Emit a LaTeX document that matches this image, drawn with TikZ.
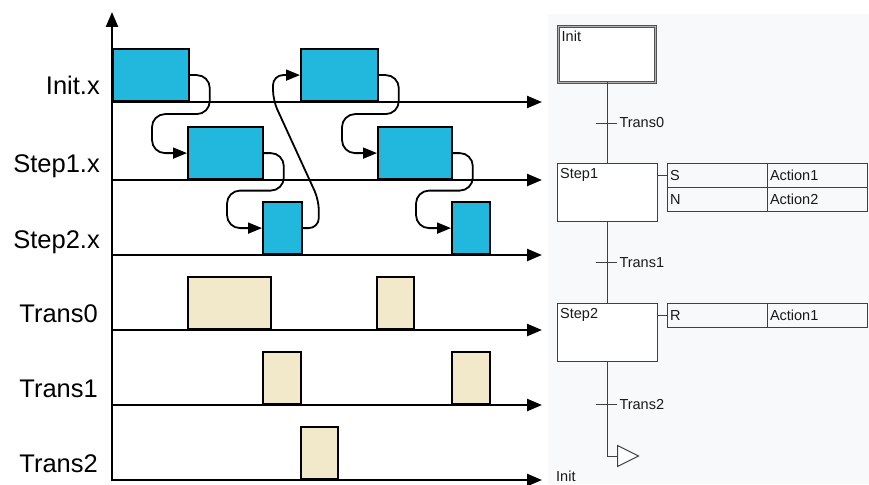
\documentclass[tikz,border=0pt]{standalone}
\usepackage{fontspec}
\setmainfont{Liberation Sans}
\usetikzlibrary{positioning,shapes.geometric,arrows.meta,calc}
\definecolor{actblue}{RGB}{34,184,221}
\definecolor{condtan}{RGB}{242,233,203}
\definecolor{panelbg}{RGB}{248,249,251}
\definecolor{sfcline}{RGB}{64,64,64}

\begin{document}
\begin{tikzpicture}[
  x=1pt, y=-1pt,
  sig/.style={font=\fontsize{25.5}{28}\selectfont, anchor=base east, inner sep=0pt},
  axis/.style={line width=2.4pt, -{Triangle[length=15pt,width=12pt]}},
  act/.style={draw, line width=1.8pt, fill=actblue, anchor=south west,
    inner sep=0pt, minimum height=52pt},
  cond/.style={draw, line width=1.8pt, fill=condtan, anchor=south west,
    inner sep=0pt, minimum height=52pt},
  flow/.style={line width=1.8pt, rounded corners=13pt,
    -{Triangle[length=14pt,width=11pt]}},
  hop/.style={to path={let \p1=(\tikztostart), \p2=(\tikztotarget) in
    -- (\x1+20pt,\y1) -- (\x1+20pt,{(\y1+\y2)/2})
    -- (\x2-35pt,{(\y1+\y2)/2}) -- (\x2-35pt,\y2) -- (\tikztotarget)}},
  sfc/.style={draw=sfcline, line width=1pt},
  sfctext/.style={font=\fontsize{14.5}{16}\selectfont, text=black!90},
  stepbox/.style={sfc, fill=white, minimum width=100pt, minimum height=58pt,
    inner sep=0pt, outer sep=0pt},
  steplbl/.style={sfctext, anchor=north west, inner xsep=3pt, inner ysep=5pt},
  cell/.style={sfc, sfctext, text width=94pt, align=left, inner xsep=3pt,
    inner ysep=0pt, minimum height=24pt, outer sep=0pt},
]
\useasboundingbox (0,0) rectangle (869,484);

% chart panel
\fill[panelbg] (548,14) rectangle (869,484);

% signal names
\node[sig] (lInit)  at (100,95)  {Init.x};
\node[sig] (lStep1) at (100,172) {Step1.x};
\node[sig] (lStep2) at (100,248) {Step2.x};
\node[sig] (lT0)    at (98,322)  {Trans0};
\node[sig] (lT1)    at (98,397)  {Trans1};
\node[sig] (lT2)    at (98,472)  {Trans2};

% step activity
\node[act, minimum width=76pt] (i1)  at (112,102) {};
\node[act, minimum width=77pt] (i2)  at (300,102) {};
\node[act, minimum width=75pt] (s1a) at (187,180) {};
\node[act, minimum width=74pt] (s1b) at (377,180) {};
\node[act, minimum width=39pt] (s2a) at (262,255) {};
\node[act, minimum width=38pt] (s2b) at (451,255) {};

% transition conditions
\node[cond, minimum width=83pt] (t0a) at (187,330) {};
\node[cond, minimum width=37pt] (t0b) at (376,330) {};
\node[cond, minimum width=38pt] (t1a) at (262,405) {};
\node[cond, minimum width=38pt] (t1b) at (451,405) {};
\node[cond, minimum width=37pt] (t2a) at (300,480) {};

% time axes
\draw[axis] (112,481) -- (112,12);
\foreach \y in {102,180,255,330,405,480}
  \draw[axis] (111,\y) -- (542,\y);

% activation hops
\draw[flow] (i1.east) to[hop] (s1a.west);
\draw[flow] (s1a.east) to[hop] (s2a.west);
\draw[flow] (i2.east) to[hop] (s1b.west);
\draw[flow] (s1b.east) to[hop] (s2b.west);
\draw[flow, rounded corners=10pt] (s2a.east) -- ++(16,0) -- ++(0,-28)
  -- ($(i2.west)+(-27,25)$) -- ++(0,-25) -- (i2.west);

% SFC
\node[stepbox, anchor=north west, draw=sfcline!90, double=black!30,
  double distance=1.4pt, minimum width=97pt, minimum height=56pt,
  label={[steplbl, inner ysep=4pt]north west:Init}] (init) at (558.5,26.5) {};
\node[stepbox, below=81pt of init, label={[steplbl]north west:Step1}] (step1) {};
\node[stepbox, below=82pt of step1, label={[steplbl]north west:Step2}] (step2) {};

\node[cell, anchor=north west] (q1) at ([xshift=10pt]step1.north east) {S};
\node[cell, right=0pt of q1] (a1) {Action1};
\node[cell, below=0pt of q1] (q2) {N};
\node[cell, right=0pt of q2] (a2) {Action2};
\node[cell, anchor=north west] (q3) at ([xshift=10pt]step2.north east) {R};
\node[cell, right=0pt of q3] (a3) {Action1};

\node[sfc, isosceles triangle, isosceles triangle stretches, fill=white,
  minimum width=21pt, minimum height=21pt, inner sep=0pt, anchor=west]
  (jmp) at (617,456) {};
\node[sfctext, anchor=base west, inner sep=0pt] (jmpto) at (556,481.5) {Init};

\draw[sfc] (init.south) -- (step1.north);
\draw[sfc] (step1.south) -- (step2.north);
\draw[sfc] (step2.south) |- (jmp.west);
\draw[sfc] (step1.east |- q1.west) -- (q1.west);
\draw[sfc] (step2.east |- q3.west) -- (q3.west);

% transitions
\coordinate (tr0) at ($(init.south)!.5!(step1.north)$);
\coordinate (tr1) at ($(step1.south)!.5!(step2.north)$);
\coordinate (tr2) at ($(step2.south)!.45!(step2.south |- jmp.west)$);
\draw[sfc] ([xshift=-11pt]tr0) -- ([xshift=10pt]tr0)
  node[sfctext, right, inner sep=2pt] {Trans0};
\draw[sfc] ([xshift=-11pt]tr1) -- ([xshift=10pt]tr1)
  node[sfctext, right, inner sep=2pt] {Trans1};
\draw[sfc] ([xshift=-11pt]tr2) -- ([xshift=10pt]tr2)
  node[sfctext, right, inner sep=2pt] {Trans2};
\end{tikzpicture}
\end{document}
